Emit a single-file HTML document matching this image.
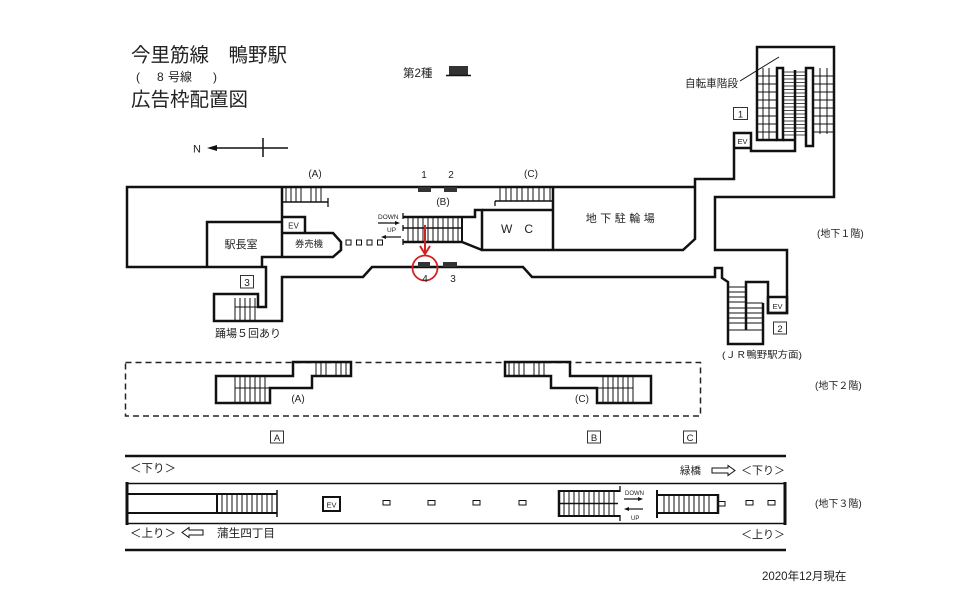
<!DOCTYPE html>
<html><head><meta charset="utf-8"><style>
html,body{margin:0;padding:0;background:#fff;}
svg{display:block}
text{font-family:"Liberation Sans","Noto Sans CJK JP",sans-serif;fill:#222}
</style></head><body>
<svg width="960" height="605" viewBox="0 0 960 605" xmlns="http://www.w3.org/2000/svg">
<rect width="960" height="605" fill="#fff"/>

<!-- Title -->
<text x="131" y="61.5" font-size="19.5">今里筋線　鴨野駅</text>
<text x="136" y="81" font-size="12">(</text>
<text x="157" y="81" font-size="12">8</text>
<text x="168" y="81" font-size="12">号線</text>
<text x="213" y="81" font-size="12">)</text>
<text x="131" y="106" font-size="19.5">広告枠配置図</text>

<text x="403" y="77" font-size="11.5">第2種</text>
<rect x="449" y="66" width="19" height="9" fill="#333"/>
<line x1="446" y1="75.5" x2="471" y2="75.5" stroke="#111" stroke-width="1.5"/>

<!-- North arrow -->
<text x="193" y="152.5" font-size="11">N</text>
<line x1="215" y1="148" x2="288" y2="148" stroke="#111" stroke-width="1.5"/>
<polygon points="207,148 217,145 217,151" fill="#111"/>
<line x1="263" y1="138" x2="263" y2="157" stroke="#111" stroke-width="1.5"/>

<!-- Level 1 walls -->
<g fill="none" stroke="#111" stroke-width="2.5" stroke-linejoin="miter">
  <path d="M695,187 L127,187 L127,267 L266,267 L266,307 L258,307 L258,294 L214,294 L214,321 L282,321 L282,277 L363,277 L372,267 L523,267 L532,277 L715,277 L715,268 L722,268 L722,278 L728,282 L728,344 L763,344 L763,303"/>
  <path d="M746,330 L746,282 L768,282 L768,313 L787,313 L787,250 L715,250 L715,197 L834,197 L834,47 L757,47 L757,140 L777,140"/>
  <path d="M695,187 L695,179 L734,179 L734,133 L751,133 L751,151 L795,151 L795,70"/>
  <line x1="734" y1="148" x2="751" y2="148"/>
  <line x1="783" y1="140" x2="795" y2="140"/>
  <rect x="777" y="68" width="6" height="72" fill="#fff"/>
  <rect x="806" y="68" width="7" height="78" fill="#fff"/>
  <rect x="768" y="297" width="19" height="16"/>
  <path d="M695,187 L695,239 L683,250 L482,250 L482,210 L475,210 L475,217 L403,217"/>
  <line x1="482" y1="210" x2="553" y2="210"/>
  <line x1="553" y1="187" x2="553" y2="250"/>
  <path d="M403,242 L462,242 L482,250"/>
  <line x1="462" y1="217" x2="462" y2="242" stroke-width="2"/>
  <path d="M282,187 L282,257"/>
  <path d="M282,217 L305,217 L305,233"/>
  <path d="M282,233 L333,233 L341,242 L341,250 L333,257 L262,257 L262,267"/>
  <path d="M207,267 L207,222 L282,222"/>
</g>
<g stroke="#111" fill="none">
  <line x1="403" y1="228" x2="462" y2="228" stroke-width="1.6"/>
  <line x1="403" y1="213" x2="403" y2="219" stroke-width="1.3"/>
  <line x1="403" y1="225" x2="403" y2="231" stroke-width="1.3"/>
  <line x1="403" y1="239" x2="403" y2="245" stroke-width="1.3"/>
  <line x1="746" y1="303" x2="763" y2="303" stroke-width="1"/>
  <!-- stair B treads -->
  <g stroke-width="1">
    <path d="M408,217V242M413,217V242M418,217V242M423,217V242M428,217V242M433,217V242M438,217V242M443,217V242M448,217V242M453,217V242M458,217V242"/>
    <!-- stair A -->
    <path d="M286,187V202M291,187V202M296,187V202M301,187V202M311,187V202M316,187V202M321,187V202"/>
    <!-- stair C -->
    <path d="M500,187V201M506,187V201M511,187V201M517,187V201M522,187V201M528,187V201M533,187V201M539,187V201M544,187V201M550,187V201"/>
    <!-- stair 3 -->
    <path d="M235,298V321M240,298V321M245,298V321M250,298V321M255,298V321"/>
    <line x1="235" y1="307" x2="258" y2="307"/>
    <!-- stair 2 -->
    <path d="M728,287H746M728,292H746M728,297H746M728,302H746M728,308H763M728,313H763M728,318H763M728,323H763M728,330H763"/>
    <!-- bicycle stairs -->
    <path d="M763,68V140M769,68V140M757,76H777M757,84H777M757,92H777M757,100H777M757,108H777M757,116H777M757,124H777M757,132H777"/>
    <path d="M820,68V134M827,68V134M813,76H834M813,84H834M813,92H834M813,100H834M813,108H834M813,116H834M813,124H834M813,132H834"/>
  </g>
  <path stroke-width="0.8" d="M783,72H806M783,75.5H806M783,79H806M783,82.5H806M783,86H806M783,89.5H806M783,93H806M783,96.5H806M783,100H806M783,103.5H806M783,107H806M783,110.5H806M783,114H806M783,117.5H806M783,121H806M783,124.5H806M783,128H806M783,131.5H806M783,135H806"/>
  <line x1="282" y1="202" x2="328" y2="202" stroke-width="1.5"/>
  <line x1="328" y1="198" x2="328" y2="207" stroke-width="1.3"/>
  <line x1="495" y1="201" x2="553" y2="201" stroke-width="1.5"/>
  <line x1="495" y1="201" x2="495" y2="206" stroke-width="1.3"/>
  <line x1="740" y1="81" x2="779" y2="57" stroke-width="1"/>
</g>

<!-- ad frames -->
<rect x="418" y="187" width="13" height="5" fill="#333"/>
<rect x="444" y="187" width="13" height="5" fill="#333"/>
<rect x="418" y="262" width="12" height="5" fill="#333"/>
<rect x="443" y="262" width="14" height="5" fill="#333"/>

<!-- squares -->
<g fill="#fff" stroke="#111" stroke-width="1">
  <rect x="346" y="240" width="5" height="5"/>
  <rect x="356.5" y="240" width="5" height="5"/>
  <rect x="367" y="240" width="5" height="5"/>
  <rect x="377.5" y="240" width="5" height="5"/>
</g>

<!-- DOWN / UP -->
<text x="378" y="219" font-size="6.5">DOWN</text>
<line x1="378" y1="223" x2="396" y2="223" stroke="#111" stroke-width="1.2"/>
<polygon points="400,223 395,221 395,225" fill="#111"/>
<text x="387" y="232" font-size="6.5">UP</text>
<line x1="386" y1="237" x2="401" y2="237" stroke="#111" stroke-width="1.2"/>
<polygon points="381,237 386,235 386,239" fill="#111"/>

<!-- red arrow and circle -->
<line x1="425" y1="225" x2="425" y2="252" stroke="#d42020" stroke-width="2"/>
<polyline points="420,246 425,254 430,246" fill="none" stroke="#d42020" stroke-width="2"/>
<circle cx="425" cy="268" r="12.5" fill="none" stroke="#d42020" stroke-width="1.8"/>

<!-- Level 1 labels -->
<text x="315" y="177" font-size="10" text-anchor="middle">(A)</text>
<text x="424" y="178" font-size="10" text-anchor="middle">1</text>
<text x="451" y="178" font-size="10" text-anchor="middle">2</text>
<text x="443" y="205" font-size="10" text-anchor="middle">(B)</text>
<text x="531" y="177" font-size="10" text-anchor="middle">(C)</text>
<text x="425" y="282" font-size="10" text-anchor="middle">4</text>
<text x="453" y="282" font-size="10" text-anchor="middle">3</text>
<text x="293.5" y="228.5" font-size="8" text-anchor="middle">EV</text>
<text x="742.5" y="144" font-size="7.5" text-anchor="middle">EV</text>
<text x="777.5" y="309" font-size="7.5" text-anchor="middle">EV</text>
<text x="241" y="248" font-size="11" text-anchor="middle">駅長室</text>
<text x="309" y="247" font-size="9.3" text-anchor="middle">券売機</text>
<text x="215" y="337" font-size="11">踊場５回あり</text>
<text x="517" y="233" font-size="12" text-anchor="middle">W　C</text>
<text x="622" y="222" font-size="11" text-anchor="middle" letter-spacing="3.5">地下駐輪場</text>
<text x="685" y="87" font-size="10.6">自転車階段</text>
<text x="817" y="237" font-size="10">(地下１階)</text>
<text x="722" y="358" font-size="9.5" textLength="80" lengthAdjust="spacingAndGlyphs">(ＪＲ鴨野駅方面)</text>

<!-- number boxes -->
<g fill="none" stroke="#333" stroke-width="1">
  <rect x="240.5" y="275.5" width="13" height="12.5"/>
  <rect x="733.5" y="107.5" width="14" height="12"/>
  <rect x="773.5" y="322" width="13" height="12"/>
  <rect x="270.5" y="431" width="13" height="12"/>
  <rect x="587.5" y="431" width="13" height="12"/>
  <rect x="683.5" y="431" width="13" height="12"/>
</g>
<text x="247" y="286" font-size="10" text-anchor="middle">3</text>
<text x="740.5" y="117.5" font-size="9.5" text-anchor="middle">1</text>
<text x="780" y="332" font-size="9.5" text-anchor="middle">2</text>
<text x="277" y="441" font-size="9.5" text-anchor="middle">A</text>
<text x="594" y="441" font-size="9.5" text-anchor="middle">B</text>
<text x="690" y="441" font-size="9.5" text-anchor="middle">C</text>

<!-- Level 2 -->
<rect x="125.5" y="362.5" width="575" height="53.5" fill="none" stroke="#222" stroke-width="1.5" stroke-dasharray="6 4"/>
<g fill="none" stroke="#111">
  <polygon points="216,376 293,376 293,362 351,362 351,376 312,376 312,388 270,388 270,403 216,403" stroke-width="2.5"/>
  <path stroke-width="1" d="M235,376V403M240,376V403M245,376V403M250,376V403M255,376V403M260,376V403M265,376V403M235,388H312M316,362V376M321,362V376M326,362V376M336,362V376M341,362V376M346,362V376"/>
  <polygon points="505,362 570,362 570,376 651,376 651,403 597,403 597,388 551,388 551,376 505,376" stroke-width="2.5"/>
  <path stroke-width="1" d="M509,362V376M514,362V376M519,362V376M524,362V376M534,362V376M539,362V376M544,362V376M603,376V403M608,376V403M613,376V403M618,376V403M623,376V403M628,376V403M633,376V403M551,388H633"/>
</g>
<text x="298" y="402" font-size="10" text-anchor="middle">(A)</text>
<text x="582" y="402" font-size="10" text-anchor="middle">(C)</text>
<text x="815" y="389" font-size="10">(地下２階)</text>

<!-- Level 3 -->
<g stroke="#111" fill="none">
  <line x1="125" y1="456" x2="786" y2="456" stroke-width="2.5"/>
  <line x1="125" y1="550" x2="786" y2="550" stroke-width="2.5"/>
  <line x1="127" y1="483.5" x2="785" y2="483.5" stroke-width="1.5"/>
  <line x1="127" y1="523.5" x2="785" y2="523.5" stroke-width="1.5"/>
  <line x1="127" y1="482" x2="127" y2="525" stroke-width="3"/>
  <line x1="785" y1="482" x2="785" y2="525" stroke-width="3"/>
  <line x1="127" y1="494" x2="277" y2="494" stroke-width="2"/>
  <line x1="127" y1="513" x2="277" y2="513" stroke-width="2"/>
  <line x1="217" y1="494" x2="217" y2="513" stroke-width="2"/>
  <path stroke-width="1" d="M222,494V513M227,494V513M232,494V513M237,494V513M242,494V513M247,494V513M252,494V513M257,494V513M262,494V513M267,494V513M272,494V513"/>
  <line x1="277" y1="490" x2="277" y2="517" stroke-width="1.5"/>
  <rect x="323" y="497" width="17" height="14" stroke-width="2"/>
  <g stroke-width="1" fill="#fff">
    <rect x="383" y="500.5" width="7" height="4.5"/>
    <rect x="428" y="500.5" width="7" height="4.5"/>
    <rect x="473" y="500.5" width="7" height="4.5"/>
    <rect x="519" y="500.5" width="7" height="4.5"/>
    <rect x="746" y="500.5" width="7" height="4.5"/>
    <rect x="768" y="500.5" width="7" height="4.5"/>
    <rect x="718" y="501.5" width="7" height="4.5"/>
  </g>
  <!-- stair B level 3 -->
  <line x1="559" y1="491" x2="620" y2="491" stroke-width="2"/>
  <line x1="559" y1="516" x2="620" y2="516" stroke-width="2"/>
  <line x1="559" y1="503.5" x2="618" y2="503.5" stroke-width="1.5"/>
  <line x1="559" y1="490" x2="559" y2="517" stroke-width="2.5"/>
  <line x1="620" y1="486" x2="620" y2="492" stroke-width="1.3"/>
  <line x1="620" y1="515" x2="620" y2="521" stroke-width="1.3"/>
  <path stroke-width="1" d="M564,491V516M569,491V516M574,491V516M579,491V516M584,491V516M589,491V516M594,491V516M599,491V516M604,491V516M609,491V516M614,491V516"/>
  <!-- right stair -->
  <line x1="657" y1="490" x2="657" y2="518" stroke-width="2"/>
  <line x1="657" y1="495" x2="718" y2="495" stroke-width="2"/>
  <line x1="657" y1="513" x2="718" y2="513" stroke-width="2"/>
  <line x1="718" y1="494" x2="718" y2="514" stroke-width="2.5"/>
  <path stroke-width="1" d="M664,495V513M669,495V513M674,495V513M679,495V513M684,495V513M689,495V513M694,495V513M699,495V513M704,495V513M709,495V513"/>
  <!-- hollow arrows -->
  <polygon points="712,468 728,468 728,465.5 735,470.5 728,475.5 728,473 712,473" stroke-width="1"/>
  <polygon points="203,530 189,530 189,527.5 182,532.5 189,537.5 189,535 203,535" stroke-width="1"/>
</g>
<text x="331.5" y="507.5" font-size="7.5" text-anchor="middle">EV</text>
<text x="625" y="495" font-size="6">DOWN</text>
<line x1="624" y1="499" x2="639" y2="499" stroke="#111" stroke-width="1.2"/>
<polygon points="643,499 638,497 638,501" fill="#111"/>
<line x1="628" y1="509" x2="643" y2="509" stroke="#111" stroke-width="1.2"/>
<polygon points="624,509 629,507 629,511" fill="#111"/>
<text x="631" y="520" font-size="6">UP</text>

<text x="130" y="472" font-size="11.5">＜下り＞</text>
<text x="130" y="537" font-size="11.5">＜上り＞</text>
<text x="217" y="537" font-size="11.6">蒲生四丁目</text>
<text x="680" y="474" font-size="10.5">緑橋</text>
<text x="741" y="474" font-size="11">＜下り＞</text>
<text x="741" y="538" font-size="11">＜上り＞</text>
<text x="815" y="507" font-size="10">(地下３階)</text>
<text x="762" y="580" font-size="11.5">2020年12月現在</text>
</svg>
</body></html>
